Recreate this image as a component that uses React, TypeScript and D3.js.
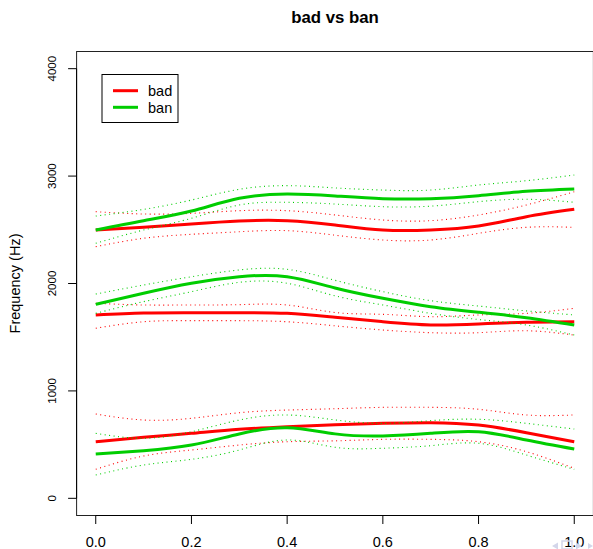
import React from "react";
import * as d3 from "d3";

const title = "bad vs ban";
const yLabel = "Frequency (Hz)";
const xs = [0, 0.1, 0.2, 0.3, 0.4, 0.5, 0.6, 0.7, 0.8, 0.9, 1.0];
const xTicks = [0, 0.2, 0.4, 0.6, 0.8, 1.0];
const yTicks = [0, 1000, 2000, 3000, 4000];
const seriesNames = ["bad", "ban"];
const seriesColors = ["#ff0000", "#00cd00"];

// bad (red)
const badF1 = [527, 568, 605, 642, 667, 686, 698, 704, 682, 611, 527];
const badF1Hi = [785, 729, 745, 797, 822, 834, 847, 847, 829, 776, 776];
const badF1Lo = [270, 394, 450, 496, 527, 535, 549, 549, 527, 434, 279];
const badF2 = [1707, 1725, 1728, 1728, 1722, 1685, 1644, 1614, 1623, 1639, 1644];
const badF2Hi = [1816, 1800, 1800, 1803, 1800, 1730, 1713, 1691, 1707, 1722, 1769];
const badF2Lo = [1583, 1644, 1654, 1654, 1644, 1606, 1567, 1542, 1542, 1560, 1520];
const badF3 = [2498, 2523, 2554, 2582, 2585, 2545, 2498, 2498, 2535, 2622, 2691];
const badF3Hi = [2669, 2647, 2653, 2678, 2678, 2638, 2591, 2585, 2638, 2731, 2855];
const badF3Lo = [2343, 2421, 2458, 2482, 2492, 2450, 2405, 2405, 2467, 2523, 2523];

// ban (green)
const banF1 = [412, 443, 496, 599, 657, 600, 580, 605, 620, 543, 459];
const banF1Hi = [605, 559, 620, 729, 776, 730, 698, 723, 736, 698, 645];
const banF1Lo = [217, 310, 363, 450, 543, 475, 466, 490, 512, 403, 270];
const banF2 = [1806, 1909, 2002, 2063, 2063, 1958, 1862, 1784, 1732, 1682, 1614];
const banF2Hi = [1902, 1986, 2063, 2126, 2132, 2030, 1924, 1840, 1790, 1745, 1707];
const banF2Lo = [1722, 1831, 1924, 2011, 2002, 1885, 1800, 1722, 1665, 1614, 1520];
const banF3 = [2498, 2585, 2675, 2793, 2833, 2815, 2790, 2790, 2818, 2858, 2880];
const banF3Hi = [2628, 2690, 2777, 2877, 2911, 2890, 2870, 2870, 2917, 2957, 3010];
const banF3Lo = [2374, 2498, 2607, 2731, 2756, 2740, 2715, 2720, 2762, 2784, 2756];

const groups = [
  { color: seriesColors[0], fits: [badF1, badF2, badF3], bands: [badF1Hi, badF1Lo, badF2Hi, badF2Lo, badF3Hi, badF3Lo] },
  { color: seriesColors[1], fits: [banF1, banF2, banF3], bands: [banF1Hi, banF1Lo, banF2Hi, banF2Lo, banF3Hi, banF3Lo] },
];

const W = 593;
const H = 549;
const FONT = "'Liberation Sans', Arial, Helvetica, sans-serif";

export default function App() {
  const x = d3.scaleLinear().domain([-0.04, 1.04]).range([76.6, 593.4]);
  const y = d3.scaleLinear().domain([-160, 4160]).range([515.5, 51.5]);
  const line = d3
    .line<number>()
    .x((_, i) => x(xs[i]))
    .y((d) => y(d))
    .curve(d3.curveNatural);

  const [x0, x1] = x.range();
  const [yb, yt] = y.range();

  return (
    <svg width={W} height={H} style={{ position: "absolute", left: 0, top: 0, background: "#fff" }}>
      <rect x={0} y={0} width={W} height={H} fill="#fff" />
      <text x={(x0 + x1) / 2} y={22.7} textAnchor="middle" fontFamily={FONT} fontWeight="bold" fontSize={16.8} fill="#000">
        {title}
      </text>

      {/* data */}
      {groups.map((g, gi) => (
        <g key={gi}>
          {g.bands.map((b, bi) => (
            <path key={"b" + bi} d={line(b) || ""} fill="none" stroke={g.color} strokeWidth={1.1} strokeDasharray="1 3.5" />
          ))}
          {g.fits.map((f, fi) => (
            <path key={"f" + fi} d={line(f) || ""} fill="none" stroke={g.color} strokeWidth={3} />
          ))}
        </g>
      ))}

      {/* box */}
      <rect x={x0} y={yt} width={x1 - x0} height={yb - yt} fill="none" stroke="#222" strokeWidth={1} />

      {/* y axis */}
      <line x1={x0} x2={x0} y1={y(0)} y2={y(4000)} stroke="#000" />
      {yTicks.map((t) => (
        <g key={t}>
          <line x1={x0 - 8.5} x2={x0} y1={y(t)} y2={y(t)} stroke="#000" />
          <text
            transform={`translate(55.5,${y(t)}) rotate(-90)`}
            textAnchor="middle"
            fontFamily={FONT}
            fontSize={11.5}
            fill="#000"
          >
            {t}
          </text>
        </g>
      ))}
      <text transform={`translate(20,${(yb + yt) / 2}) rotate(-90)`} textAnchor="middle" fontFamily={FONT} fontSize={14.5} fill="#000">
        {yLabel}
      </text>

      {/* x axis */}
      <line x1={x(0)} x2={x(1)} y1={yb} y2={yb} stroke="#000" />
      {xTicks.map((t) => (
        <g key={t}>
          <line x1={x(t)} x2={x(t)} y1={yb} y2={yb + 8.5} stroke="#000" />
          <text x={x(t)} y={546.5} textAnchor="middle" fontFamily={FONT} fontSize={14.5} fill="#000">
            {t.toFixed(1)}
          </text>
        </g>
      ))}

      {/* legend */}
      <rect x={102} y={74.5} width={76} height={48} fill="#fff" stroke="#000" strokeWidth={1} />
      {seriesNames.map((n, i) => (
        <g key={n}>
          <line x1={113} x2={138} y1={90.7 + i * 16.6} y2={90.7 + i * 16.6} stroke={seriesColors[i]} strokeWidth={3} />
          <text x={148} y={96 + i * 16.6} fontFamily={FONT} fontSize={14.5} fill="#000">
            {n}
          </text>
        </g>
      ))}

      {/* faint slide navigation symbols */}
      <g fill="#d3d6ea" stroke="none">
        <path d="M552,546 L558,542.5 L558,549.5 Z" />
        <rect x={562} y={541} width={10} height={8} fill="none" stroke="#d3d6ea" strokeWidth={1.5} />
        <path d="M582,546 L576,542.5 L576,549.5 Z" />
        <path d="M593,546 L588,543 L588,549 Z" />
      </g>
    </svg>
  );
}
